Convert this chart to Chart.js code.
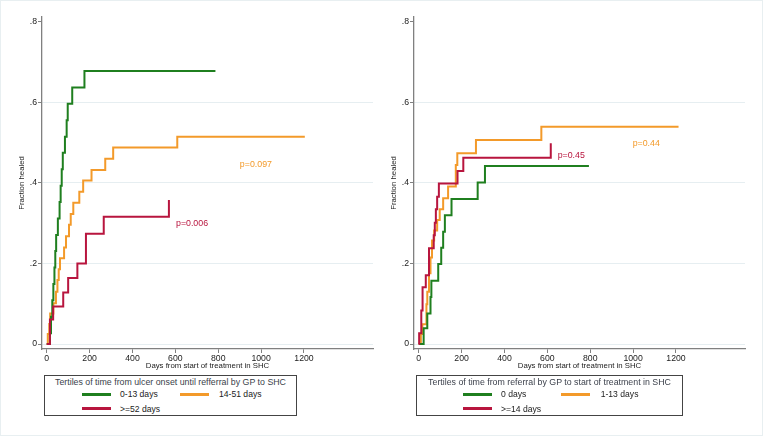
<!DOCTYPE html>
<html>
<head>
<meta charset="utf-8">
<script src="https://cdn.jsdelivr.net/npm/chart.js@4/dist/chart.umd.min.js"></script>
<style>
body { margin: 0; background: #fff; }
#wrap { position: relative; width: 763px; height: 436px; overflow: hidden; font-family: "Liberation Sans", Arial, sans-serif; }
#frame { position: absolute; left: 0; top: 0; width: 763px; height: 436px; box-sizing: border-box; border: 1px solid #e8eff1; }
canvas { position: absolute; top: 0; }
.lg { position: absolute; top: 375px; height: 41px; box-sizing: border-box; border: 1px solid #444; }
.lt { position: absolute; left: 0; right: 0; top: 1px; line-height: 10px; text-align: center; font-size: 8.8px; color: #3a3f4a; white-space: nowrap; }
.sw { position: absolute; height: 3px; width: 29px; }
.lb { position: absolute; line-height: 10px; font-size: 8.6px; color: #222; white-space: nowrap; }
</style>
</head>
<body>
<div id="wrap">
  <div id="frame"></div>
  <canvas id="leftChart" width="380" height="372" style="left:0px"></canvas>
  <canvas id="rightChart" width="380" height="372" style="left:372px"></canvas>
  <div class="lg" id="leftLegend" style="left:44px;width:253px"></div>
  <div class="lg" id="rightLegend" style="left:416px;width:267px"></div>
</div>
<script>
// colours per tertile
const colors = ['#1f7f1f', '#f39a2a', '#b8153e'];

// axis ticks
const xTicks = [0, 200, 400, 600, 800, 1000, 1200];
const yTicks = [0, 0.2, 0.4, 0.6, 0.8];
const yTickLabels = ['0', '.2', '.4', '.6', '.8'];

// left panel: time from ulcer onset until referral
const leftTitle = 'Tertiles of time from ulcer onset until refferral by GP to SHC';
const leftLabels = ['0-13 days', '14-51 days', '>=52 days'];
const leftGreenDays = [0, 15, 20, 26, 31, 36, 40, 44, 52, 60, 65, 70, 75, 85, 93, 98, 119, 176, 787];
const leftGreenFrac = [0, 0.027, 0.068, 0.109, 0.149, 0.19, 0.231, 0.271, 0.312, 0.353, 0.393, 0.434, 0.475, 0.515, 0.556, 0.597, 0.637, 0.678, 0.678];
const leftOrangeDays = [0, 5, 12, 16, 31, 43, 50, 56, 62, 81, 90, 104, 112, 124, 152, 170, 209, 273, 310, 609, 1204];
const leftOrangeFrac = [0, 0.025, 0.05, 0.076, 0.101, 0.13, 0.159, 0.186, 0.213, 0.24, 0.268, 0.296, 0.323, 0.351, 0.378, 0.406, 0.432, 0.46, 0.488, 0.515, 0.515];
const leftRedDays = [0, 15, 30, 77, 100, 143, 183, 266, 570, 570];
const leftRedFrac = [0, 0.061, 0.093, 0.128, 0.164, 0.2, 0.274, 0.316, 0.316, 0.358];
const leftNotes = [
    { text: 'p=0.097', x: 901, y: 0.447, color: colors[1] },
    { text: 'p=0.006', x: 603, y: 0.298, color: colors[2] }
];

// right panel: time from referral to start of treatment
const rightTitle = 'Tertiles of time from referral by GP to start of treatment in SHC';
const rightLabels = ['0 days', '1-13 days', '>=14 days'];
const rightGreenDays = [0, 23, 40, 55, 59, 91, 105, 114, 122, 153, 275, 309, 794];
const rightGreenFrac = [0, 0.039, 0.076, 0.117, 0.157, 0.199, 0.239, 0.279, 0.32, 0.36, 0.401, 0.442, 0.442];
const rightOrangeDays = [0, 10, 17, 36, 40, 48, 55, 62, 72, 86, 98, 114, 137, 173, 180, 267, 572, 1212];
const rightOrangeFrac = [0, 0.025, 0.049, 0.099, 0.13, 0.176, 0.215, 0.257, 0.282, 0.308, 0.335, 0.362, 0.391, 0.445, 0.474, 0.507, 0.54, 0.54];
const rightRedDays = [0, 2, 12, 18, 33, 48, 70, 75, 80, 86, 94, 181, 208, 616, 616];
const rightRedFrac = [0, 0.027, 0.083, 0.141, 0.171, 0.238, 0.27, 0.301, 0.335, 0.366, 0.399, 0.43, 0.463, 0.463, 0.499];
const rightNotes = [
    { text: 'p=0.44', x: 998, y: 0.497, color: colors[1] },
    { text: 'p=0.45', x: 648, y: 0.469, color: colors[2] }
];

const toPoints = (days, frac) => days.map((d, i) => ({ x: d, y: frac[i] }));

const notesPlugin = {
    id: 'notes',
    afterDatasetsDraw(chart, args, opts) {
        const ctx = chart.ctx;
        ctx.save();
        ctx.font = '8.8px "Liberation Sans", Arial, sans-serif';
        ctx.textAlign = 'left';
        ctx.textBaseline = 'middle';
        for (const n of opts.items) {
            ctx.fillStyle = n.color;
            ctx.fillText(n.text, chart.scales.x.getPixelForValue(n.x), chart.scales.y.getPixelForValue(n.y));
        }
        ctx.restore();
    }
};

drawPanel = (id, labels, series, notes) => {
    const order = [1, 2, 0];
    const datasets = series.map((s, i) => ({
        label: labels[i],
        data: toPoints(s[0], s[1]),
        borderColor: colors[i],
        borderWidth: 2,
        pointRadius: 0,
        stepped: 'before',
        fill: false,
        order: order[i]
    }));
    new Chart(document.getElementById(id), {
        type: 'line',
        data: { datasets: datasets },
        plugins: [notesPlugin],
        options: {
            responsive: false,
            animation: false,
            layout: { padding: { top: 17, right: 7, bottom: 0, left: 0 } },
            plugins: {
                legend: { display: false },
                tooltip: { enabled: false },
                notes: { items: notes }
            },
            scales: {
                x: {
                    type: 'linear',
                    min: -22,
                    max: 1522,
                    afterBuildTicks: (scale) => { scale.ticks = xTicks.map(v => ({ value: v })); },
                    afterFit: (scale) => { scale.height = 23; },
                    border: { color: '#808080', width: 1.3 },
                    grid: { drawOnChartArea: false, drawTicks: true, tickLength: 4, tickColor: '#808080' },
                    ticks: {
                        color: '#222',
                        padding: 0,
                        maxRotation: 0,
                        font: { size: 8.7, family: '"Liberation Sans", Arial, sans-serif' },
                        callback: (v) => String(v)
                    },
                    title: {
                        display: true,
                        text: 'Days from start of treatment in SHC',
                        color: '#222',
                        padding: { top: 0, bottom: 1.5 },
                        font: { size: 7.8, family: '"Liberation Sans", Arial, sans-serif' }
                    }
                },
                y: {
                    min: -0.0124,
                    max: 0.8124,
                    afterBuildTicks: (scale) => { scale.ticks = yTicks.map(v => ({ value: v })); },
                    afterFit: (scale) => { scale.width = 42; },
                    border: { color: '#808080', width: 1.3 },
                    grid: {
                        color: (c) => (c.tick && c.tick.value >= 0.8 ? 'rgba(0,0,0,0)' : '#e6eef1'),
                        lineWidth: 1,
                        drawTicks: true,
                        tickLength: 4,
                        tickColor: '#808080'
                    },
                    ticks: {
                        color: '#222',
                        padding: 1,
                        font: { size: 8.7, family: '"Liberation Sans", Arial, sans-serif' },
                        callback: (v) => yTickLabels[yTicks.indexOf(v)]
                    },
                    title: {
                        display: true,
                        text: 'Fraction healed',
                        color: '#222',
                        padding: { top: 17, bottom: 0 },
                        font: { size: 7.8, family: '"Liberation Sans", Arial, sans-serif' }
                    }
                }
            }
        }
    });
}

drawLegend = (id, title, labels, pos) => {
    const box = document.getElementById(id);
    let html = '<div class="lt">' + title.replace(/>/g, '&gt;') + '</div>';
    const rows = [[0, 0], [0, 1], [1, 0]];
    labels.forEach((lab, i) => {
        const col = rows[i][1];
        const row = rows[i][0];
        const top = row === 0 ? 16.5 : 31.2;
        html += '<div class="sw" style="left:' + pos[col][0] + 'px;top:' + top + 'px;background:' + colors[i] + '"></div>';
        html += '<div class="lb" style="left:' + pos[col][1] + 'px;top:' + (top - 3.5) + 'px">' + lab.replace(/>/g, '&gt;') + '</div>';
    });
    box.innerHTML = html;
}

drawPanel('leftChart', leftLabels,
    [[leftGreenDays, leftGreenFrac], [leftOrangeDays, leftOrangeFrac], [leftRedDays, leftRedFrac]], leftNotes);
drawPanel('rightChart', rightLabels,
    [[rightGreenDays, rightGreenFrac], [rightOrangeDays, rightOrangeFrac], [rightRedDays, rightRedFrac]], rightNotes);
drawLegend('leftLegend', leftTitle, leftLabels, [[36.7, 75], [135, 174]]);
drawLegend('rightLegend', rightTitle, rightLabels, [[45.7, 84], [144, 183.7]]);
</script>
</body>
</html>
